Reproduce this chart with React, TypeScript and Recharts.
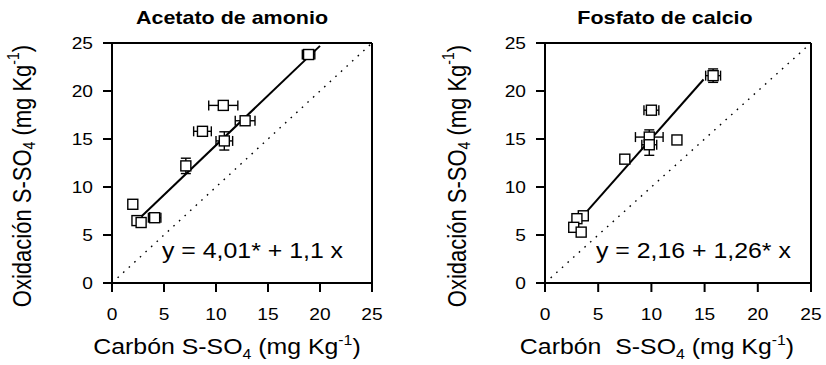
import React from "react";
import { ScatterChart, Scatter, XAxis, YAxis, ErrorBar, ReferenceLine } from "recharts";

const axisTicks = [0, 5, 10, 15, 20, 25];

// Acetato de amonio
const acetatoX = [18.9, 10.7, 12.8, 8.7, 10.8, 7.1, 2.0, 4.1, 2.4, 2.8];
const acetatoY = [23.8, 18.5, 16.9, 15.8, 14.8, 12.2, 8.2, 6.8, 6.5, 6.3];
const acetatoXErr = [0.6, 1.4, 0.95, 0.85, 0.8, 0, 0, 0.6, 0, 0];
const acetatoYErr = [0, 0, 0, 0, 0.95, 0.8, 0, 0, 0, 0];
const acetatoFitX = [2.7, 20];
const acetatoFitY = [6.8, 24.7];

// Fosfato de calcio
const fosfatoX = [15.8, 10.0, 9.8, 9.8, 12.4, 7.5, 3.6, 3.0, 2.7, 3.4];
const fosfatoY = [21.6, 18.0, 15.2, 14.4, 14.9, 12.9, 7.0, 6.7, 5.8, 5.3];
const fosfatoXErr = [0.7, 0.7, 1.3, 0.7, 0, 0.3, 0, 0, 0, 0];
const fosfatoYErr = [0.7, 0, 0.75, 1.1, 0, 0, 0, 0, 0, 0];
const fosfatoFitX = [3.9, 14.9];
const fosfatoFitY = [7.4, 21.2];

const FONT = "'Liberation Sans', Arial, sans-serif";
const STRETCH = 1.13; // text in the original is a bit wider than Arial

const Square = (props: any) => {
  const { cx, cy } = props;
  return <rect x={cx - 5} y={cy - 5} width={10} height={10} fill="#fff" stroke="#000" strokeWidth={1.4} />;
};

const XTick = (props: any) => {
  const { x, y, payload } = props;
  return (
    <text transform={`translate(${x}, ${y + 2}) scale(${STRETCH}, 1)`} textAnchor="middle" dy="0.71em" fontSize={17} fill="#000" fontFamily={FONT}>
      {payload.value}
    </text>
  );
};

const YTick = (props: any) => {
  const { x, y, payload } = props;
  return (
    <text transform={`translate(${x}, ${y}) scale(${STRETCH}, 1)`} textAnchor="end" dy="0.355em" fontSize={17} fill="#000" fontFamily={FONT}>
      {payload.value}
    </text>
  );
};

const YLabel = ({ px, py }: any) => (
  <text transform={`translate(${px}, ${py}) scale(${STRETCH}, 1) rotate(-90)`} textAnchor="middle" dominantBaseline="central" fontSize={22} fill="#000" fontFamily={FONT}>
    Oxidación S-SO<tspan dy={5} fontSize={14}>4</tspan>
    <tspan dy={-5}> (mg Kg</tspan>
    <tspan dy={-9} fontSize={14}>-1</tspan>
    <tspan dy={9}>)</tspan>
  </text>
);

const XLabel = ({ px, py, text }: any) => (
  <text transform={`translate(${px}, ${py}) scale(${STRETCH}, 1)`} textAnchor="middle" fontSize={22} fill="#000" fontFamily={FONT} style={{ whiteSpace: "pre" }}>
    {text}<tspan dy={5} fontSize={14}>4</tspan>
    <tspan dy={-5}> (mg Kg</tspan>
    <tspan dy={-9} fontSize={14}>-1</tspan>
    <tspan dy={9}>)</tspan>
  </text>
);

function Panel(props: {
  left: number; width: number; yAxisWidth: number; marginRight: number;
  xs: number[]; ys: number[]; xErr: number[]; yErr: number[];
  fitX: number[]; fitY: number[];
  title: string; titleX: number; equation: string; eqX: number;
  yLabelX: number; xLabelX: number; xLabelText: string;
}) {
  const data = props.xs.map((x, i) => ({ x, y: props.ys[i], ex: props.xErr[i], ey: props.yErr[i] }));
  return (
    <div style={{ position: "absolute", left: props.left, top: 0, width: props.width, height: 365 }}>
      <div style={{ position: "absolute", left: props.titleX - props.left - 150, width: 300, top: 6, textAlign: "center", fontWeight: "bold", fontSize: 19, fontFamily: FONT, lineHeight: "24px", transform: `scaleX(${STRETCH})` }}>
        {props.title}
      </div>
      <ScatterChart width={props.width} height={365} margin={{ top: 43, right: props.marginRight, left: 0, bottom: 0 }}>
        <XAxis
          type="number"
          dataKey="x"
          domain={[0, 25]}
          ticks={axisTicks}
          height={82}
          tickSize={9}
          tickMargin={14}
          axisLine={{ stroke: "#000", strokeWidth: 2 }}
          tickLine={{ stroke: "#000", strokeWidth: 2 }}
          tick={<XTick />}
          label={<XLabel px={props.xLabelX} py={354} text={props.xLabelText} />}
        />
        <YAxis
          type="number"
          dataKey="y"
          domain={[0, 25]}
          ticks={axisTicks}
          width={props.yAxisWidth}
          tickSize={9}
          tickMargin={10}
          axisLine={{ stroke: "#000", strokeWidth: 2 }}
          tickLine={{ stroke: "#000", strokeWidth: 2 }}
          tick={<YTick />}
          label={<YLabel px={props.yLabelX} py={176} />}
        />
        <ReferenceLine y={25} stroke="#000" strokeWidth={2} />
        <ReferenceLine x={25} stroke="#000" strokeWidth={2} />
        <ReferenceLine segment={[{ x: 0, y: 0 }, { x: 25, y: 25 }]} stroke="#000" strokeWidth={1.4} strokeDasharray="1.6 6" />
        <ReferenceLine segment={[{ x: props.fitX[0], y: props.fitY[0] }, { x: props.fitX[1], y: props.fitY[1] }]} stroke="#000" strokeWidth={2} />
        <Scatter data={data} shape={<Square />} isAnimationActive={false}>
          <ErrorBar dataKey="ex" direction="x" width={5} stroke="#000" strokeWidth={1.4} />
          <ErrorBar dataKey="ey" direction="y" width={5} stroke="#000" strokeWidth={1.4} />
        </Scatter>
      </ScatterChart>
      <div style={{ position: "absolute", left: props.eqX - props.left, top: 239, fontSize: 22, fontFamily: FONT, whiteSpace: "pre", lineHeight: "24px", transform: `scaleX(${STRETCH})`, transformOrigin: "left center" }}>
        {props.equation}
      </div>
    </div>
  );
}

export default function App() {
  return (
    <div style={{ position: "absolute", left: 0, top: 0, width: 826, height: 365, background: "#fff" }}>
      <Panel
        left={0} width={400} yAxisWidth={112} marginRight={28}
        xs={acetatoX} ys={acetatoY} xErr={acetatoXErr} yErr={acetatoYErr}
        fitX={acetatoFitX} fitY={acetatoFitY}
        title="Acetato de amonio" titleX={232}
        equation="y = 4,01* + 1,1 x" eqX={162}
        yLabelX={23} xLabelX={227} xLabelText="Carbón S-SO"
      />
      <Panel
        left={400} width={426} yAxisWidth={145} marginRight={15}
        xs={fosfatoX} ys={fosfatoY} xErr={fosfatoXErr} yErr={fosfatoYErr}
        fitX={fosfatoFitX} fitY={fosfatoFitY}
        title="Fosfato de calcio" titleX={665}
        equation="y = 2,16 + 1,26* x" eqX={596}
        yLabelX={58} xLabelX={657 - 400} xLabelText="Carbón  S-SO"
      />
    </div>
  );
}
